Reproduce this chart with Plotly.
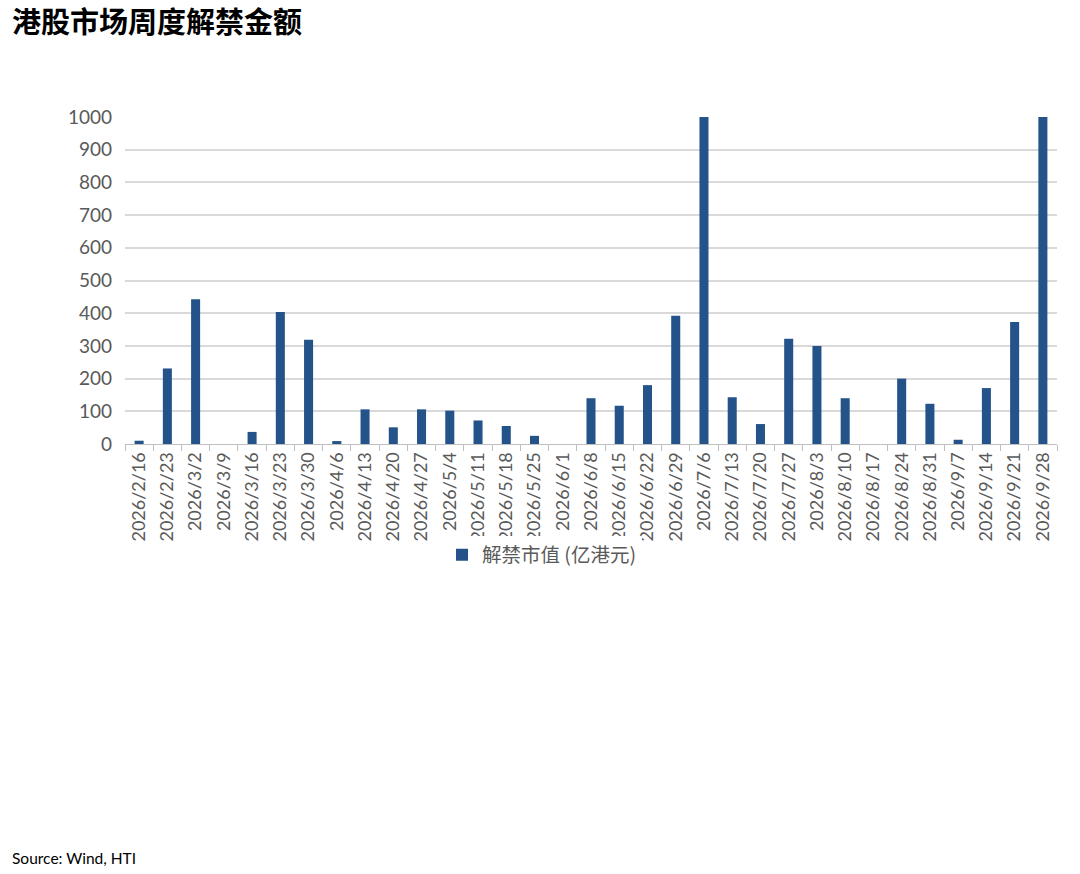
import plotly.graph_objects as go

categories = ["2026/2/16", "2026/2/23", "2026/3/2", "2026/3/9", "2026/3/16", "2026/3/23",
              "2026/3/30", "2026/4/6", "2026/4/13", "2026/4/20", "2026/4/27", "2026/5/4",
              "2026/5/11", "2026/5/18", "2026/5/25", "2026/6/1", "2026/6/8", "2026/6/15",
              "2026/6/22", "2026/6/29", "2026/7/6", "2026/7/13", "2026/7/20", "2026/7/27",
              "2026/8/3", "2026/8/10", "2026/8/17", "2026/8/24", "2026/8/31", "2026/9/7",
              "2026/9/14", "2026/9/21", "2026/9/28"]
values = [10, 231, 443, 0, 37, 404, 319, 9, 106, 51, 106, 102, 72, 55, 25, 0, 140, 117,
          180, 392, 1000, 143, 61, 322, 300, 140, 0, 200, 123, 13, 171, 373, 1000]
series_name = "解禁市值 (亿港元)"
y_ticks = [0, 100, 200, 300, 400, 500, 600, 700, 800, 900, 1000]

W, H = 1080, 874
L, R, T, B = 125, 1057, 117, 444
PW, PH = R - L, B - T


def px(xs):
    return (xs - L) / PW


def py(ys):
    return (B - ys) / PH


fig = go.Figure()
fig.add_trace(go.Bar(x=categories, y=values, name=series_name,
                     marker=dict(color="#24538A", line=dict(width=0)),
                     showlegend=True))

gray = "#595959"
fig.update_layout(
    width=W, height=H,
    margin=dict(l=L, r=W - R, t=T, b=H - B),
    paper_bgcolor="white", plot_bgcolor="white",
    bargap=0.68,
    showlegend=True,
    legend=dict(orientation="h", x=px(442), xanchor="left", y=py(555), yanchor="middle",
                font=dict(family="Noto Sans CJK SC, Lato", size=19.5, color=gray),
                itemwidth=30, traceorder="normal"),
    xaxis=dict(type="category", tickangle=-90, tickfont=dict(family="Lato, Noto Sans", size=18, color=gray),
               showline=True, linecolor="#BFBFBF", linewidth=1, ticks="outside", tickson="boundaries",
               ticklen=6, tickcolor="#BFBFBF", showgrid=False, fixedrange=True),
    yaxis=dict(range=[0, 1000], tickvals=y_ticks, tickfont=dict(family="Lato, Noto Sans", size=19, color=gray),
               showgrid=True, gridcolor="#D9D9D9", gridwidth=1.5, zeroline=False, showline=False,
               ticks="", ticklabelstandoff=12),
    annotations=[
        dict(text="<b>港股市场周度解禁金额</b>", xref="paper", yref="paper",
             x=px(10), y=py(20), xanchor="left", yanchor="middle",
             showarrow=False, font=dict(family="Noto Sans CJK SC", size=29, color="black")),
        dict(text="Source: Wind, HTI", xref="paper", yref="paper",
             x=px(10), y=py(858), xanchor="left", yanchor="middle",
             showarrow=False, font=dict(family="Lato, Open Sans", size=15.5, color="black")),
    ],
)

fig.write_html("out.html", config={"displayModeBar": False},
               post_script="document.body.style.margin='0';document.body.style.overflow='hidden';")
